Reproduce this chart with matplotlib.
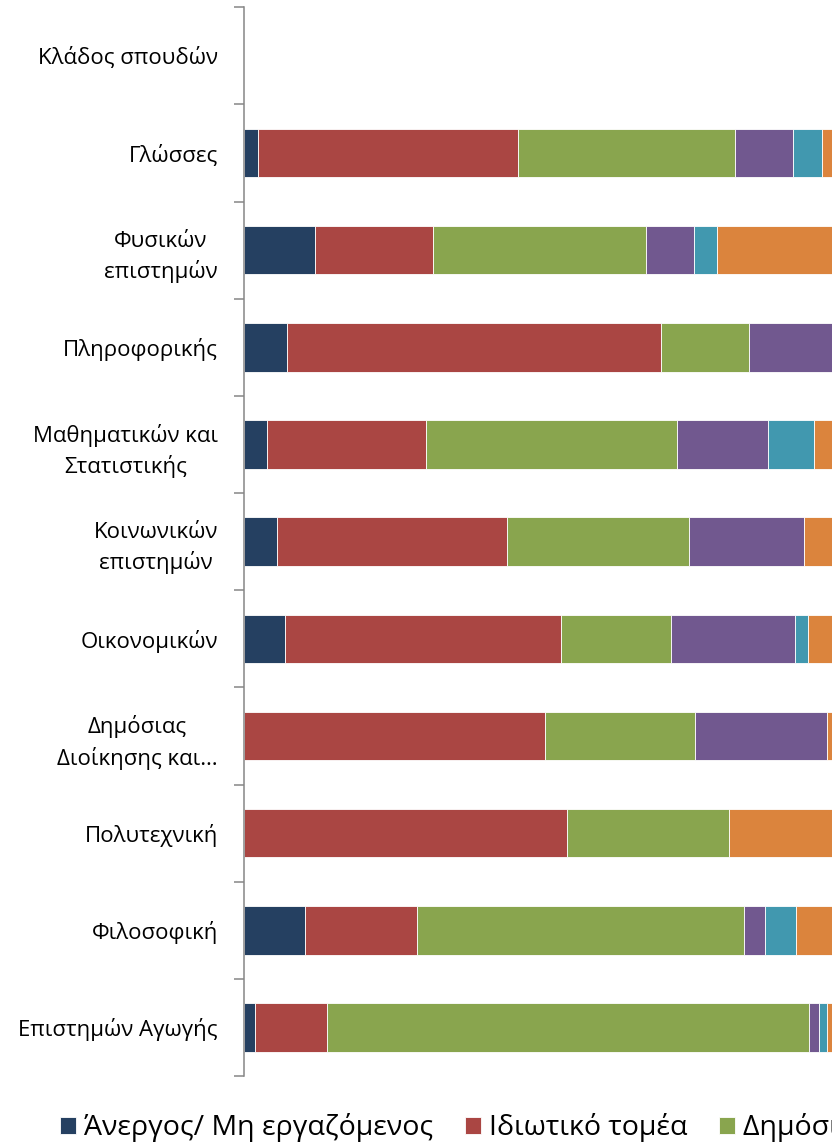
import matplotlib.pyplot as plt
import numpy as np

plt.rcParams['font.family'] = ['Open Sans', 'DejaVu Sans']

# κατηγορίες από πάνω προς τα κάτω
categories = ['Κλάδος σπουδών', 'Γλώσσες', 'Φυσικών\nεπιστημών', 'Πληροφορικής',
              'Μαθηματικών και\nΣτατιστικής', 'Κοινωνικών\nεπιστημών', 'Οικονομικών',
              'Δημόσιας\nΔιοίκησης και…', 'Πολυτεχνική', 'Φιλοσοφική',
              'Επιστημών Αγωγής']

series_names = ['Άνεργος/ Μη εργαζόμενος', 'Ιδιωτικό τομέα', 'Δημόσιο τομέα',
                'Αυτοαπασχολούμενος', 'Μεταπτυχιακές σπουδές', 'Άλλο']

unemployed = [0, 2.3, 11.4, 6.9, 3.6, 5.3, 6.6, 0, 0, 9.8, 1.7]
private = [0, 41.9, 19.1, 60.3, 25.8, 37.1, 44.5, 48.5, 52.1, 18.1, 11.7]
public = [0, 35.0, 34.4, 14.2, 40.4, 29.4, 17.8, 24.3, 26.1, 52.8, 77.7]
self_employed = [0, 9.3, 7.6, 18.6, 14.7, 18.6, 19.9, 21.2, 0, 3.3, 1.7]
postgrad = [0, 4.7, 3.8, 0, 7.4, 0, 2.2, 0, 0, 5.0, 1.2]
other = [0, 6.8, 23.7, 0, 8.1, 9.6, 9.0, 6.0, 21.8, 11.0, 6.0]

colors = ['#254061', '#AA4643', '#89A54E', '#71588F', '#4198AF', '#DB843D']

fig = plt.figure(figsize=(8.32, 11.44), dpi=100)
W, H = 832, 1144
x0, x100 = 244.2, 864
y_top, y_bot = 7.3, 1076
ax = fig.add_axes([x0 / W, 1 - y_bot / H, (x100 - x0) / W, (y_bot - y_top) / H])

y = np.arange(len(categories))
left = np.zeros(len(categories))
for vals, name, c in zip([unemployed, private, public, self_employed, postgrad, other],
                         series_names, colors):
    ax.barh(y, vals, left=left, height=0.5, color=c, edgecolor='white',
            linewidth=0.6, label=name)
    left += np.array(vals)

ax.set_xlim(0, 100)
ax.set_ylim(len(categories) - 0.5, -0.5)

for s in ['top', 'right', 'bottom']:
    ax.spines[s].set_visible(False)
ax.spines['left'].set_color('#868686')
ax.spines['left'].set_linewidth(1.1)
ax.set_xticks([])

ax.set_yticks(y)
ax.set_yticklabels(categories, fontsize=16, multialignment='center', linespacing=1.45)
ax.tick_params(axis='y', which='major', length=0, pad=19)
ax.set_yticks(np.arange(-0.5, len(categories)), minor=True)
ax.tick_params(axis='y', which='minor', length=7, width=1.1, color='#868686')

fig.legend(loc='center left', bbox_to_anchor=(60 / W, 1 - 1128 / H), ncol=6,
           frameon=False, fontsize=20.5, handlelength=0.56, handleheight=0.56,
           handletextpad=0.28, columnspacing=1.12, borderaxespad=0, borderpad=0)

fig.savefig('out.png', dpi=100)
